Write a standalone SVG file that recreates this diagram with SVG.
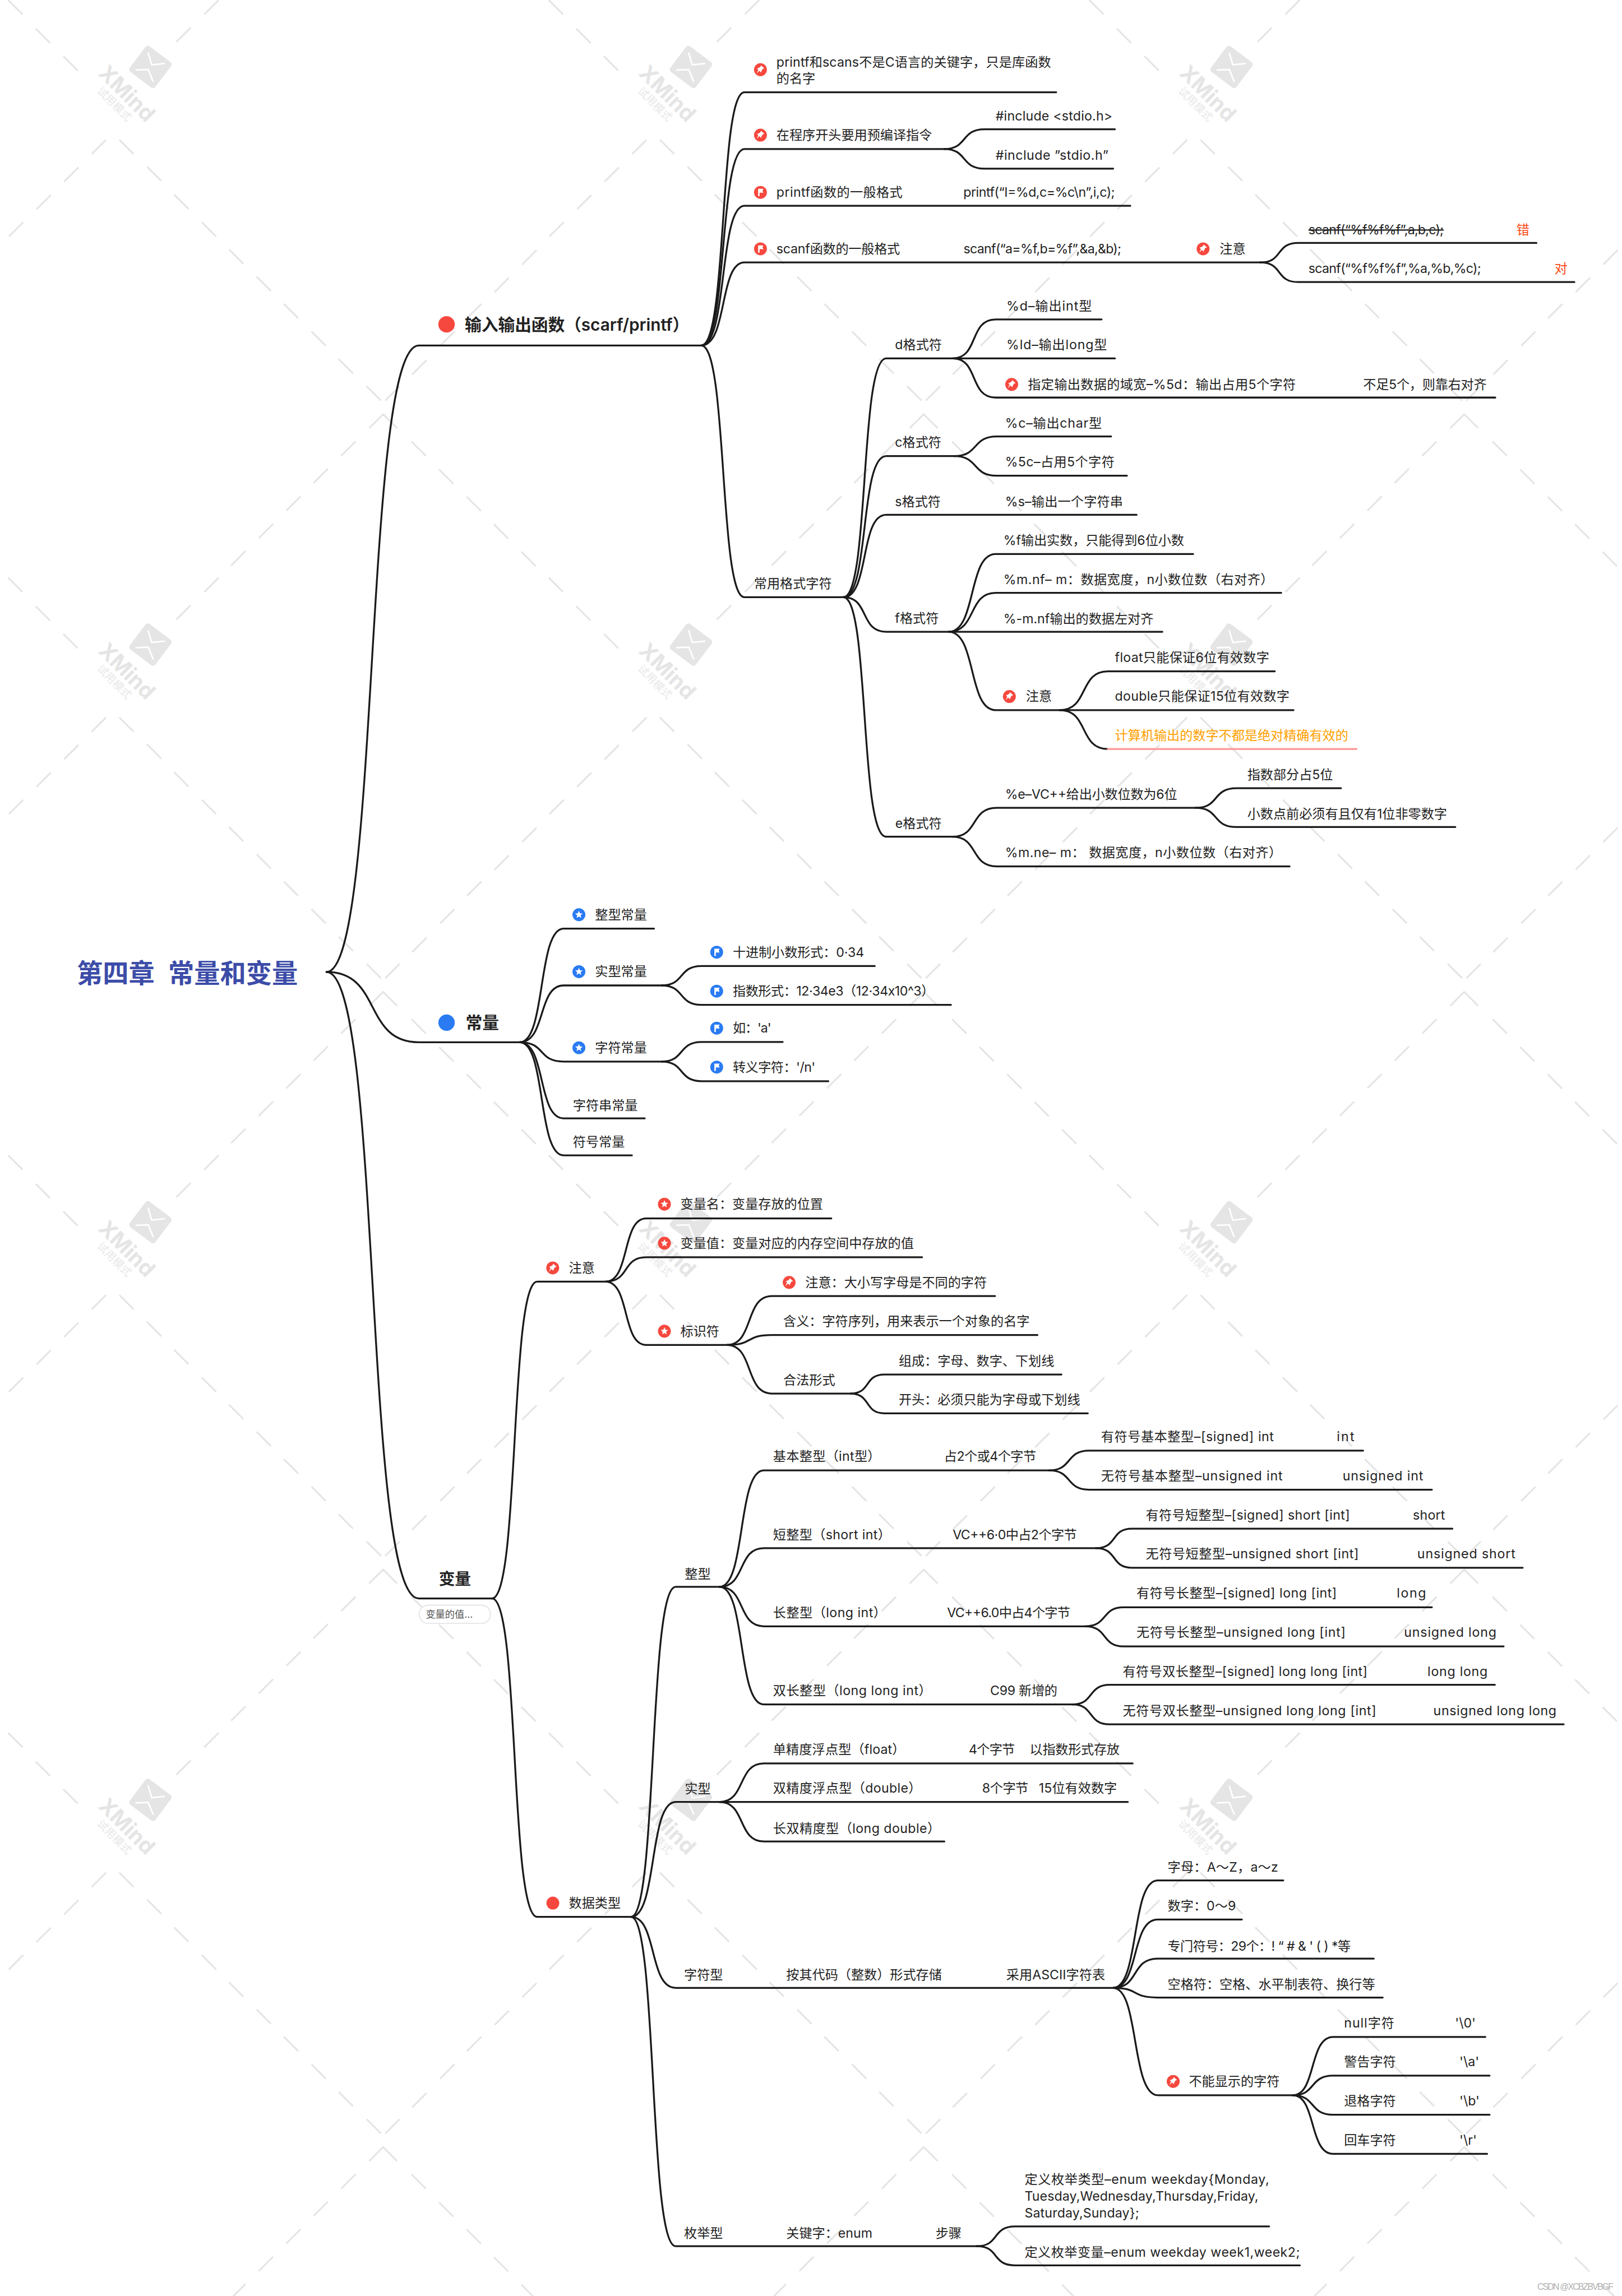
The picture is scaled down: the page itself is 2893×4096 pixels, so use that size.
<svg xmlns="http://www.w3.org/2000/svg" width="2893" height="4096" viewBox="0 0 2893 4096">
<style>
text{font-family:"Inter","Noto Sans CJK SC",sans-serif;font-size:8.86px;fill:#222;dominant-baseline:central}
.b1{font-size:11.4px;font-weight:600}
.b3{font-size:11px;font-weight:600}
.t{font-size:17.7px;font-weight:700;fill:#3c4ca8}
.red{fill:#ff4a12}
.org{fill:#ffa000}
.note{font-size:6.6px;fill:#555}
.strike{text-decoration:line-through}
.cn path{fill:none;stroke:#1a1a1a;stroke-width:1.25;stroke-linecap:round}
.cn path.pink{stroke:#ff9c9c}
.wm{fill:none;stroke:#e5e5e5;stroke-width:5}
.csdn{font-size:6px;fill:#b0b0b0;font-family:"Liberation Sans","Noto Sans CJK SC",sans-serif}
</style>
<defs>
<path id="sp" d="M.4-2.9 2.7-.9 1.6-.6.5 1.2.5 2-.9.7-2.6 2.7-1.5.1-2.4-.9-1.6-1-.1-1.9Z"/>
<path id="ss" d="M0-2.7 .71-.97 2.57-.83 1.14.37 1.59 2.18 0 1.2-1.59 2.18-1.14.37-2.57-.83-.71-.97Z"/>
<path id="sf" d="M-1.6-2.4H2L1.4-1.1 2 .2H-.6V2.6H-1.6Z"/>
<g id="rp"><circle r="4.4" fill="#f6483e"/><use href="#sp" fill="#fff"/></g>
<g id="rf"><circle r="4.4" fill="#f6483e"/><use href="#sf" fill="#fff"/></g>
<g id="rs"><circle r="4.4" fill="#f6483e"/><use href="#ss" fill="#fff"/></g>
<g id="bs"><circle r="4.4" fill="#2a7bf2"/><use href="#ss" fill="#fff"/></g>
<g id="bf"><circle r="4.4" fill="#2a7bf2"/><use href="#sf" fill="#fff"/></g>
<g id="tile" transform="scale(.2448)">
<path class="wm" d="M1068 1155l40 40M1148 1232l40 40M1225 1310l40 40M1302 1386l40 40M1378 1463l40 40M1455 1540l40 40M1531 1612l40 40M1608 1692l40 40M1685 1769l40 40M333 390l40 40M410 465l40 40M486 543l40 40M563 620l40 40M639 696l40 40M716 772l40 40M792 848l40 40M869 925l40 40M945 1002l40 40M1023 1078l40 40M1070 1155l-40 40M992 1232l-40 40M915 1308l-40 40M839 1385l-40 40M762 1462l-40 40M685 1538l-40 40M610 1612l-40 40M532 1689l-40 40M1115 1078l-40 40M1190 1005l-40 40M1268 925l-40 40M1343 848l-40 40M1420 775l-40 40M1497 698l-40 40M1573 620l-40 40M1650 544l-40 40M1727 467l-40 40M1804 390l-40 40"/>
</g>
<g id="logo" transform="scale(.2952)">
<rect x="-37" y="-37" width="74" height="74" rx="7" fill="#e5e5e5" transform="translate(348 155) rotate(37)"/>
<path d="M343 123l8 27 29-3M315 162l28-1 11 27" fill="none" stroke="#fff" stroke-width="3.6" stroke-linecap="round" stroke-linejoin="round"/>
<text x="225" y="172" transform="rotate(45 225 172)" style="font-size:50px;font-weight:700;fill:#e5e5e5;dominant-baseline:auto">XMind</text>
<text x="223" y="212" transform="rotate(45 223 212)" style="font-size:25px;fill:#e8e8e8;dominant-baseline:auto">试用模式</text>
</g>
</defs>
<rect width="2893" height="4096" fill="#fff"/>
<g transform="scale(2.6114)">
<g id="watermark">
<use href="#tile" transform="translate(-369.2 -394.6)"/><use href="#tile" transform="translate(0 -394.6)"/><use href="#tile" transform="translate(369.2 -394.6)"/><use href="#tile" transform="translate(738.4 -394.6)"/>
<use href="#tile" transform="translate(-369.2 0)"/><use href="#tile"/><use href="#tile" transform="translate(369.2 0)"/><use href="#tile" transform="translate(738.4 0)"/>
<use href="#tile" transform="translate(-369.2 394.6)"/><use href="#tile" transform="translate(0 394.6)"/><use href="#tile" transform="translate(369.2 394.6)"/><use href="#tile" transform="translate(738.4 394.6)"/>
<use href="#tile" transform="translate(-369.2 789.2)"/><use href="#tile" transform="translate(0 789.2)"/><use href="#tile" transform="translate(369.2 789.2)"/><use href="#tile" transform="translate(738.4 789.2)"/>
<use href="#tile" transform="translate(-369.2 1183.8)"/><use href="#tile" transform="translate(0 1183.8)"/><use href="#tile" transform="translate(369.2 1183.8)"/><use href="#tile" transform="translate(738.4 1183.8)"/>
<use href="#logo"/><use href="#logo" transform="translate(369.2 0)"/><use href="#logo" transform="translate(738.4 0)"/>
<use href="#logo" transform="translate(0 394.6)"/><use href="#logo" transform="translate(369.2 394.6)"/><use href="#logo" transform="translate(738.4 394.6)"/>
<use href="#logo" transform="translate(0 789.2)"/><use href="#logo" transform="translate(369.2 789.2)"/><use href="#logo" transform="translate(738.4 789.2)"/>
<use href="#logo" transform="translate(0 1183.8)"/><use href="#logo" transform="translate(369.2 1183.8)"/><use href="#logo" transform="translate(738.4 1183.8)"/>
</g>
<g id="connectors" class="cn">
<path d="M223 664c37 0 25-428 63-428H479"/>
<path d="M223 664c38 0 25 48 63 48H355"/>
<path d="M223 664c38 0 25 428 63 428H336"/>
<path d="M479 236c18 0 12-173 29.500-173H721.400"/>
<path d="M479 236c18 0 12-134.200 29.500-134.200H645"/>
<path d="M479 236c18 0 12-95.400 29.500-95.400H772"/>
<path d="M479 236c18 0 12-56.700 29.500-56.700H860.700"/>
<path d="M479 236c18 0 12 172 29.500 172H576"/>
<path d="M645 101.800c16 0 11-13.500 27.400-13.500H761.500"/>
<path d="M645 101.800c16 0 11 13.400 27.400 13.400H760.300"/>
<path d="M860.700 179.300c16 0 10-13.300 26-13.300H1049.400"/>
<path d="M860.700 179.300c16 0 10 13.400 26 13.400H1075.300"/>
<path d="M576 408c18 0 11-163.200 29.300-163.200H650.700"/>
<path d="M576 408c18 0 11-96.400 29.300-96.400H651.700"/>
<path d="M576 408c18 0 11-56.300 29.300-56.300H776.300"/>
<path d="M576 408c18 0 11 23.600 29.300 23.600H648"/>
<path d="M576 408c18 0 11 163.600 29.300 163.600H650.500"/>
<path d="M650.700 244.800c18 0 11-26.600 29.300-26.600H752.400"/>
<path d="M650.700 244.800H761.500"/>
<path d="M650.700 244.800c18 0 11 26.800 29.300 26.800H1021.300"/>
<path d="M651.700 311.600c17 0 12-13.400 29.100-13.400H758.900"/>
<path d="M651.700 311.600c17 0 12 13.400 29.100 13.400H769.700"/>
<path d="M648 431.600c19 0 13-53.100 32-53.100H814.900"/>
<path d="M648 431.600c19 0 13-26.600 32-26.600H875.100"/>
<path d="M648 431.600H793.900"/>
<path d="M648 431.600c19 0 13 53.500 32 53.500H723.800"/>
<path d="M723.800 485.100c20 0 13-26.500 32.800-26.500H870.700"/>
<path d="M723.800 485.100H883.500"/>
<path d="M723.800 485.100c20 0 13 26.600 32.800 26.600"/>
<path class="pink" d="M756.600 511.700H926.500"/>
<path d="M650.500 571.600c18 0 12-19.700 30.300-19.700H816.400"/>
<path d="M650.500 571.600c18 0 12 20.300 30.300 20.300H880.800"/>
<path d="M816.400 551.900c17 0 11-13.400 28.300-13.400H915.900"/>
<path d="M816.400 551.900c17 0 11 13.100 28.300 13.100H994"/>
<path d="M355 712c18 0 12-77.600 30-77.600H446.700"/>
<path d="M355 712c18 0 12-38.800 30-38.800H451.900"/>
<path d="M355 712c18 0 12 13.200 30 13.200H451.900"/>
<path d="M355 712c18 0 12 52 30 52H440.400"/>
<path d="M355 712c18 0 12 77.300 30 77.300H431.600"/>
<path d="M451.900 673.200c16 0 11-13.300 27.300-13.300H597.500"/>
<path d="M451.900 673.200c16 0 11 13.300 27.300 13.300H649.500"/>
<path d="M451.900 725.200c16 0 11-13.400 27.300-13.400H534.600"/>
<path d="M451.900 725.200c16 0 11 13.400 27.300 13.400H565.800"/>
<path d="M336 1092c19 0 12-216.500 31-216.500H413.500"/>
<path d="M336 1092c19 0 12 217.500 31 217.500H431"/>
<path d="M413.500 875.500c17 0 11-43.100 27.900-43.100H567.800"/>
<path d="M413.500 875.500c17 0 11-16.600 27.900-16.600H629.800"/>
<path d="M413.500 875.500c17 0 11 43.300 27.900 43.300H496.300"/>
<path d="M496.300 918.800c19 0 12-33.400 31-33.400H679.600"/>
<path d="M496.300 918.800c19 0 12-6.800 31-6.800H708.600"/>
<path d="M496.300 918.800c19 0 12 33.200 31 33.200H581"/>
<path d="M581 952c14 0 9-13 23-13H725"/>
<path d="M581 952c14 0 9 13.500 23 13.500H743"/>
<path d="M431 1309.500c18 0 12-225.500 30.500-225.500H491.500"/>
<path d="M431 1309.500c18 0 12-78.500 30.500-78.500H491.500"/>
<path d="M431 1309.500c18 0 12 48.500 30.500 48.500H760.300"/>
<path d="M431 1309.500c18 0 12 225 30.500 225H667"/>
<path d="M491.500 1084c18 0 12-79.500 30.200-79.500H716.600"/>
<path d="M491.500 1084c18 0 12-26.400 30.200-26.400H748.500"/>
<path d="M491.500 1084c18 0 12 27 30.200 27H741"/>
<path d="M491.500 1084c18 0 12 80.400 30.200 80.400H732.500"/>
<path d="M716.600 1004.500c16 0 11-13.500 27.300-13.500H931"/>
<path d="M716.600 1004.500c16 0 11 13.200 27.300 13.200H978"/>
<path d="M748.500 1057.600c15 0 10-13.300 24.500-13.300H992"/>
<path d="M748.500 1057.600c15 0 10 13.400 24.500 13.400H1040"/>
<path d="M741 1111c16 0 11-13 26.400-13H978"/>
<path d="M741 1111c16 0 11 13.700 26.400 13.700H1027"/>
<path d="M732.500 1164.400c15 0 10-13.400 25.500-13.400H1021"/>
<path d="M732.500 1164.400c15 0 10 13.600 25.500 13.600H1068"/>
<path d="M491.500 1231c18 0 12-26.300 30.200-26.300H773.600"/>
<path d="M491.500 1231H770.300"/>
<path d="M491.500 1231c18 0 12 27 30.200 27H645"/>
<path d="M760.300 1358c18 0 12-73.400 30.400-73.400H876.500"/>
<path d="M760.300 1358c18 0 12-46.700 30.400-46.700H848.200"/>
<path d="M760.300 1358c18 0 12-20 30.400-20H938.300"/>
<path d="M760.300 1358c18 0 12 6.600 30.400 6.600H944.400"/>
<path d="M760.300 1358c18 0 12 73.400 30.700 73.400H883"/>
<path d="M883 1431.400c16 0 11-39.900 27.500-39.900H1014.500"/>
<path d="M883 1431.400c16 0 11-13.400 27.500-13.400H1017.400"/>
<path d="M883 1431.400c16 0 11 13.300 27.500 13.300H1017.400"/>
<path d="M883 1431.400c16 0 11 40 27.500 40H1015.700"/>
<path d="M667 1534.500c16 0 10-13.500 26.400-13.500H866.800"/>
<path d="M667 1534.500c16 0 10 13.100 26.400 13.100H887.800"/>
</g>
<g id="nodes" transform="translate(0 .6)">
<g id="root"><text class="t" x="52.500" y="664">第四章 <tspan x="114.900">常量和变量</tspan></text></g>
<g id="b1"><circle cx="305" cy="221" r="5.600" fill="#f6483e"/><text class="b1" x="317.500" y="221" textLength="153.200">输入输出函数（scarf/printf）</text></g>
<g id="n1"><use href="#rp" x="519.400" y="47"/><text x="530.300" y="41.800" textLength="187.600">printf和scans不是C语言的关键字，只是库函数</text><text x="530.300" y="53">的名字</text></g>
<g id="n2"><use href="#rp" x="519.400" y="91.700"/><text x="530.300" y="91.700">在程序开头要用预编译指令</text></g>
<g id="n3"><text x="680" y="78.700" textLength="79.800">#include &lt;stdio.h&gt;</text></g>
<g id="n4"><text x="680" y="105.400" textLength="77">#include ”stdio.h”</text></g>
<g id="n5"><use href="#rf" x="519.400" y="130.800"/><text x="530.300" y="130.800" textLength="86.100">printf函数的一般格式</text><text x="658" y="130.800" textLength="103.500">printf(“I=%d,c=%c\n”,i,c);</text></g>
<g id="n6"><use href="#rf" x="519.400" y="169.400"/><text x="530.300" y="169.400" textLength="84.400">scanf函数的一般格式</text><text x="658.100" y="169.400" textLength="107.800">scanf(“a=%f,b=%f”,&amp;a,&amp;b);</text></g>
<g id="n7"><use href="#rp" x="821.700" y="169.400"/><text x="833" y="169.400">注意</text></g>
<g id="n8"><text class="strike" x="893.700" y="156.300" textLength="92.400">scanf(“%f%f%f”,a,b,c);</text><text class="red" x="1035.700" y="156.300">错</text></g>
<g id="n9"><text x="893.700" y="183" textLength="117.900">scanf(“%f%f%f”,%a,%b,%c);</text><text class="red" x="1061.700" y="183">对</text></g>
<g id="n10"><text x="515" y="398">常用格式字符</text></g>
<g id="n11"><text x="611.300" y="234.800">d格式符</text></g>
<g id="n12"><text x="687.400" y="208.600" textLength="58.300">%d–输出int型</text></g>
<g id="n13"><text x="687.400" y="235" textLength="68.700">%ld–输出long型</text></g>
<g id="n14"><use href="#rp" x="691" y="262"/><text x="702" y="262" textLength="183">指定输出数据的域宽–%5d：输出占用5个字符</text><text x="931" y="262" textLength="84.400">不足5个，则靠右对齐</text></g>
<g id="n15"><text x="611.300" y="301.600">c格式符</text></g>
<g id="n16"><text x="686.500" y="288.400" textLength="66">%c–输出char型</text></g>
<g id="n17"><text x="686.500" y="315" textLength="74.700">%5c–占用5个字符</text></g>
<g id="n18"><text x="611.300" y="342">s格式符</text></g>
<g id="n19"><text x="686.500" y="342" textLength="80.500">%s–输出一个字符串</text></g>
<g id="n20"><text x="611.300" y="421.800">f格式符</text></g>
<g id="n21"><text x="685.400" y="368.700" textLength="123.300">%f输出实数，只能得到6位小数</text></g>
<g id="n22"><text x="685.400" y="395.300" textLength="184.400">%m.nf– m：数据宽度，n小数位数（右对齐）</text></g>
<g id="n23"><text x="685.400" y="422" textLength="102.400">%-m.nf输出的数据左对齐</text></g>
<g id="n24"><use href="#rp" x="689.400" y="475.200"/><text x="700.700" y="475.200">注意</text></g>
<g id="n25"><text x="761.500" y="448.500" textLength="105.400">float只能保证6位有效数字</text></g>
<g id="n26"><text x="761.500" y="475.200" textLength="119.200">double只能保证15位有效数字</text></g>
<g id="n27"><text class="org" x="761.500" y="501.900">计算机输出的数字不都是绝对精确有效的</text></g>
<g id="n28"><text x="611.500" y="562">e格式符</text></g>
<g id="n29"><text x="686.500" y="542" textLength="117.500">%e–VC++给出小数位数为6位</text></g>
<g id="n30"><text x="851.900" y="528.800">指数部分占5位</text></g>
<g id="n31"><text x="851.900" y="555.300">小数点前必须有且仅有1位非零数字</text></g>
<g id="n32"><text x="686.500" y="582" textLength="188.900">%m.ne– m： 数据宽度，n小数位数（右对齐）</text></g>
<g id="b2"><circle cx="305" cy="698" r="5.600" fill="#2a7bf2"/><text class="b1" x="318" y="698">常量</text></g>
<g id="c1"><use href="#bs" x="395.400" y="624.300"/><text x="406.400" y="624.300">整型常量</text></g>
<g id="c2"><use href="#bs" x="395.400" y="663.200"/><text x="406.400" y="663.200">实型常量</text></g>
<g id="c3"><use href="#bf" x="489.500" y="649.900"/><text x="500.500" y="649.900" textLength="89.700">十进制小数形式：0·34</text></g>
<g id="c4"><use href="#bf" x="489.500" y="676.500"/><text x="500.500" y="676.500" textLength="137.600">指数形式：12·34e3（12·34x10^3）</text></g>
<g id="c5"><use href="#bs" x="395.400" y="715.200"/><text x="406.400" y="715.200">字符常量</text></g>
<g id="c6"><use href="#bf" x="489.500" y="701.800"/><text x="500.500" y="701.800" textLength="26.300">如：'a'</text></g>
<g id="c7"><use href="#bf" x="489.500" y="728.400"/><text x="500.500" y="728.400" textLength="56.400">转义字符：'/n'</text></g>
<g id="c8"><text x="391.300" y="754.400">字符串常量</text></g>
<g id="c9"><text x="391.300" y="779.500">符号常量</text></g>
<g id="b3"><text class="b3" x="299.700" y="1078">变量</text><rect x="286.400" y="1096" width="48.600" height="12.400" rx="6" fill="#fff" stroke="#e8e8ec" stroke-width=".8"/><text class="note" x="290.800" y="1102">变量的值...</text></g>
<g id="v1"><use href="#rp" x="377.500" y="865.600"/><text x="388.500" y="865.600">注意</text></g>
<g id="v2"><use href="#rs" x="453.800" y="822"/><text x="464.700" y="822">变量名：变量存放的位置</text></g>
<g id="v3"><use href="#rs" x="453.800" y="848.700"/><text x="464.700" y="848.700">变量值：变量对应的内存空间中存放的值</text></g>
<g id="v4"><use href="#rs" x="453.800" y="908.800"/><text x="464.700" y="908.800">标识符</text></g>
<g id="v5"><use href="#rp" x="539" y="875.500"/><text x="550" y="875.500">注意：大小写字母是不同的字符</text></g>
<g id="v6"><text x="535" y="902">含义：字符序列，用来表示一个对象的名字</text></g>
<g id="v7"><text x="535" y="942">合法形式</text></g>
<g id="v8"><text x="613.800" y="929">组成：字母、数字、下划线</text></g>
<g id="v9"><text x="613.800" y="955.500">开头：必须只能为字母或下划线</text></g>
<g id="d0"><circle cx="377.600" cy="1299.500" r="4.400" fill="#f6483e"/><text x="388.500" y="1299.500">数据类型</text></g>
<g id="d1"><text x="467.700" y="1074.500">整型</text></g>
<g id="d2"><text x="528" y="994.400" textLength="73.400">基本整型（int型）</text><text x="644.800" y="994.400" textLength="62.900">占2个或4个字节</text></g>
<g id="d3"><text x="752" y="980.800" textLength="118">有符号基本整型–[signed] int</text><text x="913" y="980.800" textLength="12">int</text></g>
<g id="d4"><text x="752" y="1007.600" textLength="124">无符号基本整型–unsigned int</text><text x="917" y="1007.600" textLength="55">unsigned int</text></g>
<g id="d5"><text x="528" y="1047.700" textLength="80.400">短整型（short int）</text><text x="650.700" y="1047.700" textLength="84.800">VC++6·0中占2个字节</text></g>
<g id="d6"><text x="782.500" y="1034.300" textLength="139.500">有符号短整型–[signed] short [int]</text><text x="965" y="1034.300" textLength="22">short</text></g>
<g id="d7"><text x="782.500" y="1061" textLength="145.500">无符号短整型–unsigned short [int]</text><text x="968" y="1061" textLength="67">unsigned short</text></g>
<g id="d8"><text x="528" y="1101.100" textLength="77.400">长整型（long int）</text><text x="646.900" y="1101.100" textLength="84.100">VC++6.0中占4个字节</text></g>
<g id="d9"><text x="776.200" y="1087.700" textLength="136.800">有符号长整型–[signed] long [int]</text><text x="954" y="1087.700" textLength="20">long</text></g>
<g id="d10"><text x="776.200" y="1114.600" textLength="142.800">无符号长整型–unsigned long [int]</text><text x="959" y="1114.600" textLength="63">unsigned long</text></g>
<g id="d11"><text x="528" y="1154.400" textLength="108.300">双长整型（long long int）</text><text x="676.300" y="1154.400" textLength="45.900">C99 新增的</text></g>
<g id="d12"><text x="766.800" y="1141.200" textLength="167.200">有符号双长整型–[signed] long long [int]</text><text x="975" y="1141.200" textLength="41">long long</text></g>
<g id="d13"><text x="766.800" y="1168" textLength="173.200">无符号双长整型–unsigned long long [int]</text><text x="979" y="1168" textLength="84">unsigned long long</text></g>
<g id="d14"><text x="467.700" y="1221.500">实型</text></g>
<g id="d15"><text x="528" y="1194.600" textLength="90.200">单精度浮点型（float）</text><text x="661.700" y="1194.600" textLength="31.500">4个字节</text><text x="703.300" y="1194.600" textLength="61.400">以指数形式存放</text></g>
<g id="d16"><text x="528" y="1221" textLength="101.300">双精度浮点型（double）</text><text x="670.800" y="1221" textLength="31.600">8个字节</text><text x="709.500" y="1221" textLength="53.400">15位有效数字</text></g>
<g id="d17"><text x="528" y="1248.400" textLength="114.200">长双精度型（long double）</text></g>
<g id="d18"><text x="467.200" y="1348.300">字符型</text><text x="537" y="1348.300">按其代码（整数）形式存储</text><text x="687.300" y="1348.300" textLength="67.500">采用ASCII字符表</text></g>
<g id="d19"><text x="797.500" y="1275" textLength="75.500">字母：A～Z，a～z</text></g>
<g id="d20"><text x="797.500" y="1301.400" textLength="46.600">数字：0～9</text></g>
<g id="d21"><text x="797.500" y="1329" textLength="125">专门符号：29个：! “ # &amp; ' ( ) *等</text></g>
<g id="d22"><text x="797.500" y="1355">空格符：空格、水平制表符、换行等</text></g>
<g id="d23"><use href="#rp" x="801.300" y="1421.300"/><text x="812" y="1421.300">不能显示的字符</text></g>
<g id="d24"><text x="918" y="1381.500" textLength="34.300">null字符</text><text x="993.800" y="1381.500">'\0'</text></g>
<g id="d25"><text x="918" y="1408">警告字符</text><text x="996.800" y="1408">'\a'</text></g>
<g id="d26"><text x="918" y="1434.700">退格字符</text><text x="996.800" y="1434.700">'\b'</text></g>
<g id="d27"><text x="918" y="1461.500">回车字符</text><text x="996.800" y="1461.500">'\r'</text></g>
<g id="d28"><text x="467.200" y="1525">枚举型</text><text x="537" y="1525">关键字：enum</text><text x="639" y="1525">步骤</text></g>
<g id="d29"><text x="699.800" y="1488.400" textLength="167">定义枚举类型–enum weekday{Monday,</text><text x="699.800" y="1499.900" textLength="159.700">Tuesday,Wednesday,Thursday,Friday,</text><text x="699.800" y="1511.400" textLength="78.200">Saturday,Sunday};</text></g>
<g id="d30"><text x="699.800" y="1538" textLength="188">定义枚举变量–enum weekday week1,week2;</text></g>
</g>
<text class="csdn" x="1050" y="1562" textLength="52">CSDN @XCBZBVBGF</text>
</g>
</svg>
